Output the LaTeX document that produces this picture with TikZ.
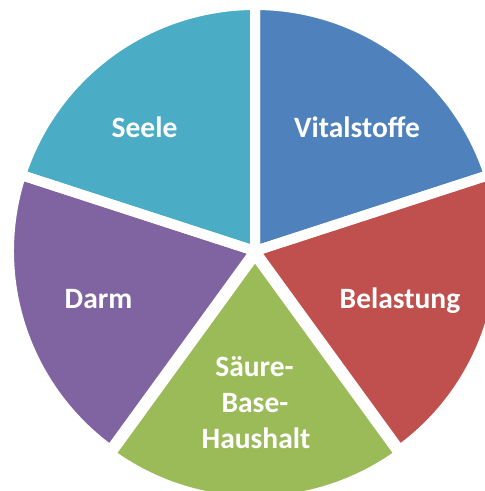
\documentclass[tikz,border=0pt]{standalone}
\usepackage{fontspec}
\setmainfont{Carlito}
\definecolor{cTeal}{HTML}{4BACC6}
\definecolor{cBlue}{HTML}{4F81BD}
\definecolor{cRed}{HTML}{C0504D}
\definecolor{cGreen}{HTML}{9BBB59}
\definecolor{cPurple}{HTML}{8064A2}
\begin{document}
\begin{tikzpicture}[x=1pt,y=1pt,
  lbl/.style={text=white,font=\fontsize{29.5}{34}\selectfont\bfseries,inner sep=0pt,anchor=base},
  gap/.style={draw=white,line width=10pt,line join=round}]
\useasboundingbox (0,0) rectangle (485,491);
\clip (0,0) rectangle (485,491);
\coordinate (C) at (255,240);
\coordinate (G) at (255,236);
\def\R{246}
% fills
\fill[cBlue]   (C) -- ++(18:\R) arc (18:90:\R) -- cycle;
\fill[cRed]    (C) -- ++(-54:\R) arc (-54:18:\R) -- cycle;
\fill[cGreen]  (G) -- ++(-126:\R) arc (-126:-54:\R) -- cycle;
\fill[cPurple] (C) -- ++(162:\R) arc (162:234:\R) -- cycle;
\fill[cTeal]   (C) -- ++(90:\R) arc (90:162:\R) -- cycle;
% white separations
\draw[gap] (C) -- ++(18:\R) arc (18:90:\R) -- cycle;
\draw[gap] (C) -- ++(-54:\R) arc (-54:18:\R) -- cycle;
\draw[gap] (G) -- ++(-126:\R) arc (-126:-54:\R) -- cycle;
\draw[gap] (C) -- ++(162:\R) arc (162:234:\R) -- cycle;
\draw[gap] (C) -- ++(90:\R) arc (90:162:\R) -- cycle;
% labels
\node[lbl] (seele) at (144.5,353) {Seele};
\node[lbl] (vital) at (357,353) {Vitalstoffe};
\node[lbl] (darm) at (98.5,182) {Darm};
\node[lbl] (bel) at (400,182) {Belastung};
\node[lbl] (s1) at (254.5,114.3) {Säure-};
\node[lbl] (s2) at (255,78.3) {Base-};
\node[lbl] (s3) at (256,42.7) {Haushalt};
\end{tikzpicture}
\end{document}
